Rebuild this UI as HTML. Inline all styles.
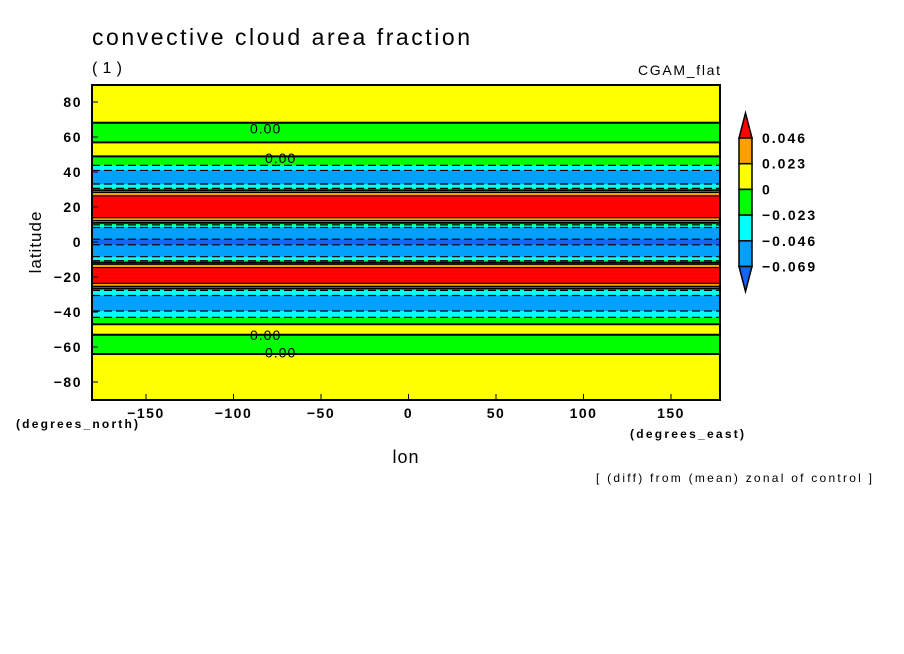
<!DOCTYPE html>
<html><head><meta charset="utf-8">
<style>
body{margin:0;background:#fff;}
svg{display:block;font-family:"Liberation Sans",sans-serif;}
</style></head>
<body>
<svg id="chart" width="904" height="654" viewBox="0 0 904 654">
<text x="92" y="45" font-size="23" textLength="378" lengthAdjust="spacing">convective cloud area fraction</text>
<text x="92" y="73" font-size="16" textLength="30">(1)</text>
<text x="638" y="75" font-size="14" textLength="82">CGAM_flat</text>
<g id="plot"></g>
<rect x="92" y="85" width="628" height="315" fill="none" stroke="#000" stroke-width="2"/>
<g id="axes" font-size="14" font-weight="bold" letter-spacing="1.5"></g>
<text transform="translate(41,242) rotate(-90)" font-size="17" text-anchor="middle" letter-spacing="1">latitude</text>
<text x="406" y="463" font-size="18" text-anchor="middle" letter-spacing="1">lon</text>
<text x="16" y="428" font-size="12" font-weight="bold" textLength="122">(degrees_north)</text>
<text x="630" y="438" font-size="12" font-weight="bold" textLength="114">(degrees_east)</text>
<text x="596" y="482" font-size="12" textLength="276">[ (diff) from (mean) zonal of control ]</text>
<g id="cbar"></g>
</svg>
<script>
const lats = [90,85,80,75,70,65,60,55,50,45,42,40,35,31,28,25,20,15,12,10,8,4,0,-4,-8,-11,-13,-16,-22,-25,-28,-32,-38,-42,-45,-48,-52,-55,-62,-65,-70,-80,-90];
const vals = [0.005,0.005,0.005,0.003,0.003,-0.005,-0.008,0.005,0.004,-0.015,-0.035,-0.055,-0.06,-0.03,0.03,0.06,0.07,0.06,0.02,-0.02,-0.05,-0.066,-0.071,-0.066,-0.05,-0.02,0.03,0.06,0.065,0.03,-0.03,-0.055,-0.055,-0.03,-0.01,0.005,0.005,-0.01,-0.01,0.005,0.004,0.004,0.005];
const levels = [-0.069,-0.046,-0.023,0,0.023,0.046];
const colors = ["#1464f0","#00a0ff","#00ffff","#00ff00","#ffff00","#ffa000","#ff0000"];
const latTicks = [80,60,40,20,0,-20,-40,-60,-80];
const lonTicks = [-150,-100,-50,0,50,100,150];
const cbLabels = ["0.046","0.023","0","\u22120.023","\u22120.046","\u22120.069"];
const zeroLabelLats = [65,48,-53,-63];
const NS="http://www.w3.org/2000/svg";
const X0=92,X1=720;
function yOf(lat){return 242-lat*1.75;}
function xOf(lon){return 408.5+lon*1.75;}
function valAt(lat){
  for(let i=0;i<lats.length-1;i++){
    if(lat<=lats[i]&&lat>=lats[i+1]){const t=(lats[i]-lat)/(lats[i]-lats[i+1]);return vals[i]+t*(vals[i+1]-vals[i]);}
  }
  return vals[vals.length-1];
}
function colOf(v){let k=0;while(k<levels.length&&v>=levels[k])k++;return colors[k];}
const plot=document.getElementById('plot');
for(let lat=90;lat>-90;lat-=0.5){
  const r=document.createElementNS(NS,'rect');
  
  
  r.setAttribute('x',X0);r.setAttribute('y',yOf(lat));
  r.setAttribute('width',X1-X0);r.setAttribute('height',0.5*1.75+0.3);
  r.setAttribute('fill',colOf(valAt(lat-0.25)));
  plot.appendChild(r);
}
for(let i=0;i<lats.length-1;i++){
  levels.forEach(L=>{
    const a=vals[i],b=vals[i+1];
    if((a-L)*(b-L)<0){
      const lat=lats[i]+(L-a)/(b-a)*(lats[i+1]-lats[i]);
      const ln=document.createElementNS(NS,'line');
      
      
      ln.setAttribute('x1',X0);ln.setAttribute('x2',X1);
      ln.setAttribute('y1',yOf(lat));ln.setAttribute('y2',yOf(lat));
      ln.setAttribute('stroke','#000');
      ln.setAttribute('stroke-width',L===0?2:1.2);
      if(L<0)ln.setAttribute('stroke-dasharray','8 4');
      plot.appendChild(ln);
    }
  });
}
zeroLabelLats.forEach((lat,i)=>{
  const t=document.createElementNS(NS,'text');
  
  
  t.setAttribute('x',i%2?265:250);t.setAttribute('y',yOf(lat)+5);
  t.setAttribute('font-size','14');t.setAttribute('letter-spacing','1');t.textContent='0.00';
  plot.appendChild(t);
});
const ax=document.getElementById('axes');
latTicks.forEach(v=>{
  const t=document.createElementNS(NS,'text');
  
  
  t.setAttribute('x',82);t.setAttribute('y',yOf(v)+5);t.setAttribute('text-anchor','end');
  t.textContent=v<0?'\u2212'+(-v):String(v);ax.appendChild(t);
  const l=document.createElementNS(NS,'line');
  
  
  l.setAttribute('x1',92);l.setAttribute('x2',98);l.setAttribute('y1',yOf(v));l.setAttribute('y2',yOf(v));l.setAttribute('stroke','#000');
  ax.appendChild(l);
});
lonTicks.forEach(v=>{
  const t=document.createElementNS(NS,'text');
  
  
  t.setAttribute('x',xOf(v));t.setAttribute('y',418);t.setAttribute('text-anchor','middle');
  t.textContent=v<0?'\u2212'+(-v):String(v);ax.appendChild(t);
  const l=document.createElementNS(NS,'line');
  
  
  l.setAttribute('x1',xOf(v));l.setAttribute('x2',xOf(v));l.setAttribute('y1',400);l.setAttribute('y2',394);l.setAttribute('stroke','#000');
  ax.appendChild(l);
});
const cb=document.getElementById('cbar');
const cbTop=138,cbH=25.7,cx=739,cw=13;
for(let k=0;k<7;k++){
  const idx=6-k;
  let el;
  if(k===0){el=document.createElementNS(NS,'polygon');el.setAttribute('points',`${cx},${cbTop} ${cx+cw},${cbTop} ${cx+cw/2},${cbTop-25}`);}
  else if(k===6){const y=cbTop+5*cbH;el=document.createElementNS(NS,'polygon');el.setAttribute('points',`${cx},${y} ${cx+cw},${y} ${cx+cw/2},${y+25}`);}
  else{el=document.createElementNS(NS,'rect');el.setAttribute('x',cx);el.setAttribute('y',cbTop+(k-1)*cbH);el.setAttribute('width',cw);el.setAttribute('height',cbH);}
  
  
  el.setAttribute('fill',colors[idx]);el.setAttribute('stroke','#000');el.setAttribute('stroke-width','1.5');
  cb.appendChild(el);
}
cbLabels.forEach((s,i)=>{
  const t=document.createElementNS(NS,'text');
  
  
  t.setAttribute('x',762);t.setAttribute('y',cbTop+i*cbH+5);t.setAttribute('font-size','14');t.setAttribute('font-weight','bold');t.setAttribute('letter-spacing','2');
  t.textContent=s;cb.appendChild(t);
});
</script>
</body></html>
